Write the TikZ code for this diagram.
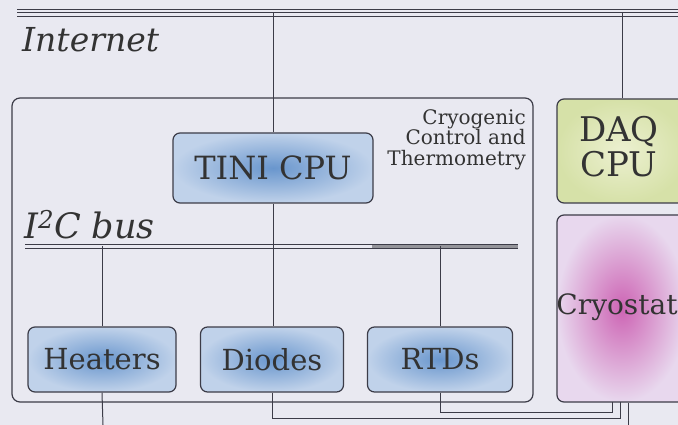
\documentclass[tikz,border=0pt]{standalone}
\usepackage{fontspec}
\setmainfont{DejaVu Serif}
\definecolor{bg}{RGB}{233,233,241}
\definecolor{ln}{RGB}{60,60,72}
\definecolor{bluein}{RGB}{105,150,205}
\definecolor{blueout}{RGB}{192,210,234}
\definecolor{magin}{RGB}{205,100,180}
\definecolor{magout}{RGB}{232,216,238}
\definecolor{greenin}{RGB}{236,240,208}
\definecolor{greenout}{RGB}{214,225,168}
\tikzset{
  unit/.style={draw=ln, line width=1.2pt, rounded corners=7pt, inner sep=0pt, font=\fontsize{29}{32}\selectfont, text=black!80},
  bluebox/.style={unit, shading=radial, inner color=bluein, outer color=blueout},
  wire/.style={draw=ln, line width=1pt},
  label/.style={inner sep=0pt, text=black!80}
}
\begin{document}
\begin{tikzpicture}[x=1pt,y=-1pt]
\clip (0,0) rectangle (678,425);
\fill[bg] (0,0) rectangle (678,425);

% main box
\node[draw=ln, line width=1.2pt, rounded corners=8pt, minimum width=521pt, minimum height=304pt, inner sep=0pt] (main) at (272.5,250) {};
\node[label, anchor=north east, align=right, font=\fontsize{20}{20.5}\selectfont] (cryolabel) at (526,109) {Cryogenic\\Control and\\Thermometry};

% unit boxes
\node[bluebox, minimum width=200pt, minimum height=70pt, font=\fontsize{32}{34}\selectfont] (tini) at (273,168) {TINI CPU};
\node[bluebox, minimum width=148pt, minimum height=65pt] (heaters) at (102,359.5) {Heaters};
\node[bluebox, minimum width=143pt, minimum height=65pt] (diodes) at (272,359.5) {Diodes};
\node[bluebox, minimum width=145pt, minimum height=65pt] (rtds) at (440,359.5) {RTDs};
\node[unit, shading=radial, inner color=greenin, outer color=greenout, minimum width=130pt, minimum height=104pt] (daq) at (622,151) {};
\node[label, align=center, font=\fontsize{34}{35}\selectfont] (daqtext) at (619,147) {DAQ\\CPU};
\node[unit, shading=radial, inner color=magin, outer color=magout, minimum width=130pt, minimum height=187pt] (cryo) at (622,308.5) {};
\node[label, font=\fontsize{28}{30}\selectfont] (cryotext) at (617,307) {Cryostat};

% labels
\node[label, anchor=base west, font=\fontsize{33}{35}\selectfont\itshape] (inettext) at (22,52) {Internet};
\node[label, anchor=base west, font=\fontsize{35}{37}\selectfont\itshape] (i2ctext) at (24,238) {I\textsuperscript{2}C bus};

% internet bus
\coordinate (inetL) at (17,13);
\coordinate (inetR) at (678,13);
\draw[wire] ([yshift=-3.5pt]inetL) -- ([yshift=-3.5pt]inetR);
\draw[wire] (inetL) -- (inetR);
\draw[wire] ([yshift=3.5pt]inetL) -- ([yshift=3.5pt]inetR);

% I2C bus
\coordinate (i2cL) at (25,246);
\coordinate (i2cR) at (518,246);
\coordinate (i2cM) at (372,246);
\fill[ln!55] ([yshift=-2.5pt]i2cM) rectangle ([yshift=2.5pt]i2cR);
\draw[wire] ([yshift=-2pt]i2cL) -- ([yshift=-2pt]i2cR);
\draw[wire] ([yshift=2pt]i2cL) -- ([yshift=2pt]i2cR);

% connectors
\draw[wire] (tini.north) -- (tini.north |- inetL);
\draw[wire] (daq.north) -- (daq.north |- inetL);
\draw[wire] (tini.south) -- (tini.south |- diodes.north);
\draw[wire] (heaters.north) -- (heaters.north |- i2cL);
\draw[wire] (rtds.north) -- (rtds.north |- i2cL);

\coordinate (heatEnd) at (103,425);
\draw[wire] (heaters.south) -- (heatEnd);
\coordinate (dcorner) at (272,418);
\coordinate (rcorner) at (440,412);
\coordinate (cryoIn1) at (620,402);
\coordinate (cryoIn2) at (612,402);
\coordinate (cryoOut) at (628,425);
\draw[wire] (diodes.south) -- (dcorner) -| (cryoIn1);
\draw[wire] (rtds.south) -- (rcorner) -| (cryoIn2);
\draw[wire] (cryoOut |- cryo.south) -- (cryoOut);
\end{tikzpicture}
\end{document}
